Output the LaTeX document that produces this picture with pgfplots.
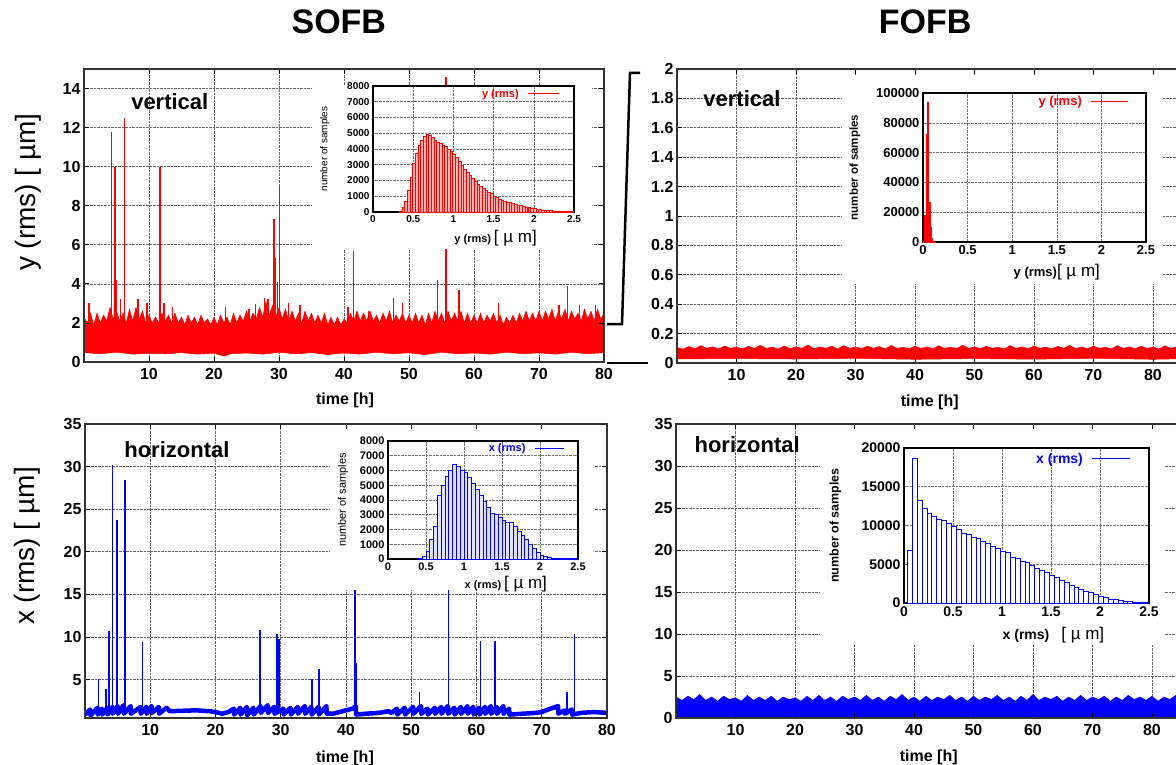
\documentclass[border=0pt]{standalone}
\usepackage{fontspec}
\setmainfont{Liberation Sans}
\usepackage{pgfplots}
\pgfplotsset{compat=1.18}
\newcommand\fs[1]{\fontsize{#1}{#1}\selectfont}
\pgfplotsset{
 mainax/.style={scale only axis, anchor=south west,
   axis line style={line width=1.3pt, black!80},
   tick align=inside, major tick length=5pt, tick style={line width=0.8pt, black},
   xtick={10,20,30,40,50,60,70,80},
   tick label style={font=\fs{16}\bfseries},
   xticklabel style={yshift=-3pt},
   /pgf/number format/fixed, /pgf/number format/assume math mode=true, /pgf/number format/1000 sep={}, scaled ticks=false,
   xlabel style={font=\fs{16}\bfseries, anchor=center},
   ylabel style={font=\fs{28}, anchor=center},
   title style={font=\fs{34}\bfseries, anchor=center},
   unbounded coords=jump},
 maingrid/.style={grid=major, grid style={densely dotted, black!60, line width=0.7pt}},
 mainover/.style={xticklabels={}, yticklabels={}},
 tlgeo/.style={at={(84pt,-362pt)}, width=520pt, height=293pt, xmin=0, xmax=80, ymin=0, ymax=15, ytick={0,2,...,14}},
 trgeo/.style={at={(677pt,-363pt)}, width=511.7pt, height=294pt, xmin=0, xmax=86, ymin=0, ymax=2, ytick={0,0.2,0.4,0.6,0.8,1,1.2,1.4,1.6,1.8,2}},
 blgeo/.style={at={(85pt,-718pt)}, width=522pt, height=294pt, xmin=0, xmax=80, ymin=0.5, ymax=35, ytick={5,10,...,35}},
 brgeo/.style={at={(676pt,-718pt)}, width=511.7pt, height=294pt, xmin=0, xmax=86, ymin=0, ymax=35, ytick={0,5,...,35}},
 insetax/.style={scale only axis, anchor=south west, ybar,
   axis line style={line width=1.1pt}, tick align=inside, major tick length=3pt, tick style={line width=0.6pt},
   grid=major, grid style={densely dotted, black!55, line width=0.6pt},
   xmin=0, xmax=2.5, ymin=0, xtick={0,0.5,1,1.5,2,2.5}, xticklabels={0,0.5,1,1.5,2,2.5},
   scaled ticks=false, /pgf/number format/fixed, /pgf/number format/1000 sep={}, /pgf/number format/assume math mode=true,
   legend plot pos=right, legend style={draw=none, fill=none, inner sep=0pt, anchor=east, column sep=7pt},
   ylabel style={anchor=center}, xlabel style={anchor=center}},
}
\begin{document}
\begin{tikzpicture}
\useasboundingbox (0,0) rectangle (1176pt,-765pt);
\clip (0,0) rectangle (1176pt,-765pt);

% ================= TOP LEFT (SOFB vertical) =================
\begin{axis}[mainax, maingrid, tlgeo,
  title={SOFB}, title style={at={(axis description cs:0.49,1.14)}},
  xlabel={time [h]}, xlabel style={at={(axis description cs:0.502,-0.13)}},
  ylabel={y (rms) [ µm]}, ylabel style={at={(axis description cs:-0.108,0.58)}}]
\addplot[draw=red, fill=red, line width=0.5pt] coordinates {
(0,2.3)(0.5,2.0)(1,2.5)(1.5,1.9)(2,2.5)(2.5,2.0)(3,2.4)(3.5,2.1)(4,2.8)(4.5,2.2)(5,2.6)(5.5,2.1)(6,2.5)(6.5,2.0)(7,2.7)(7.5,2.1)(8,2.8)(8.5,2.2)(9,2.6)(9.5,2.0)(10,2.4)(10.5,2.0)(11,2.3)(11.5,2.0)(12,2.5)(12.5,2.1)(13,2.4)(13.5,2.0)(14,2.5)(14.5,2.0)(15,2.3)(15.5,1.9)(16,2.4)(16.5,2.0)(17,2.3)(17.5,1.9)(18,2.4)(18.5,2.0)(19,2.2)(19.5,1.9)(20,2.3)(20.5,1.9)(21,2.4)(21.5,2.0)(22,2.3)(22.5,1.9)(23,2.5)(23.5,2.0)(24,2.4)(24.5,2.1)(25,2.6)(25.5,2.1)(26,2.5)(26.5,2.2)(27,2.8)(27.5,2.3)(28,3.1)(28.5,2.4)(29,2.9)(29.5,2.3)(30,2.8)(30.5,2.2)(31,2.7)(31.5,2.1)(32,2.6)(32.5,2.1)(33,2.5)(33.5,2.0)(34,2.6)(34.5,2.1)(35,2.5)(35.5,2.0)(36,2.4)(36.5,2.0)(37,2.5)(37.5,1.9)(38,2.3)(38.5,1.9)(39,2.3)(39.5,1.9)(40,2.2)(40.5,2.0)(41,2.5)(41.5,2.1)(42,2.6)(42.5,2.1)(43,2.5)(43.5,2.1)(44,2.6)(44.5,2.1)(45,2.4)(45.5,2.0)(46,2.5)(46.5,2.1)(47,2.6)(47.5,2.0)(48,2.4)(48.5,2.1)(49,2.5)(49.5,2.0)(50,2.4)(50.5,2.0)(51,2.5)(51.5,2.0)(52,2.4)(52.5,1.9)(53,2.5)(53.5,2.0)(54,2.6)(54.5,2.1)(55,2.5)(55.5,2.0)(56,2.6)(56.5,2.1)(57,2.5)(57.5,2.1)(58,2.6)(58.5,2.0)(59,2.5)(59.5,2.0)(60,2.4)(60.5,2.0)(61,2.5)(61.5,2.0)(62,2.4)(62.5,2.1)(63,2.5)(63.5,2.0)(64,2.4)(64.5,1.9)(65,2.3)(65.5,2.0)(66,2.4)(66.5,2.0)(67,2.5)(67.5,2.1)(68,2.6)(68.5,2.1)(69,2.5)(69.5,2.1)(70,2.6)(70.5,2.1)(71,2.6)(71.5,2.2)(72,2.7)(72.5,2.1)(73,2.6)(73.5,2.2)(74,2.7)(74.5,2.1)(75,2.6)(75.5,2.2)(76,2.5)(76.5,2.1)(77,2.7)(77.5,2.2)(78,2.6)(78.5,2.1)(79,2.7)(79.5,2.2)(80,2.5)
(80,0.48)(77.5,0.42)(75,0.5)(72.5,0.4)(70,0.47)(67.5,0.42)(65,0.5)(62.5,0.4)(60,0.46)(57.5,0.42)(55,0.5)(52.5,0.38)(50,0.47)(47.5,0.42)(45,0.5)(42.5,0.4)(40,0.46)(37.5,0.38)(35,0.48)(32.5,0.42)(30,0.5)(27.5,0.4)(25,0.46)(22.5,0.42)(21.6,0.3)(20,0.45)(17.5,0.4)(15,0.48)(12.5,0.42)(10,0.45)(7.5,0.4)(5,0.5)(2.5,0.42)(0,0.48)
} -- cycle;
\addplot[red, line width=1.5pt] coordinates {
(0.8,2)(0.8,3.0)(0.8,nan)(4.2,2)(4.2,11.8)(4.2,nan)(4.8,2)(4.8,10.0)(4.8,nan)(5.0,2)(5.0,4.2)(5.0,nan)(5.6,2)(5.6,3.2)(5.6,nan)(6.2,2)(6.2,12.5)(6.2,nan)(8.3,2)(8.3,3.2)(8.3,nan)(9.7,2)(9.7,3.0)(9.7,nan)(11.7,2)(11.7,10.0)(11.7,nan)(12.3,2)(12.3,3.0)(12.3,nan)(13.6,2)(13.6,2.8)(13.6,nan)(21.8,2)(21.8,2.8)(21.8,nan)(25.4,2)(25.4,2.7)(25.4,nan)(26.4,2)(26.4,2.95)(26.4,nan)(27.8,2)(27.8,3.3)(27.8,nan)(28.3,2)(28.3,3.2)(28.3,nan)(29.2,2)(29.2,7.3)(29.2,nan)(29.4,2)(29.4,5.3)(29.4,nan)(29.8,2)(29.8,4.1)(29.8,nan)(30.05,2)(30.05,9.0)(30.05,nan)(31.5,2)(31.5,3.0)(31.5,nan)(33.2,2)(33.2,2.9)(33.2,nan)(40.6,2)(40.6,2.8)(40.6,nan)(41.5,2)(41.5,5.7)(41.5,nan)(43.8,2)(43.8,2.6)(43.8,nan)(47.6,2)(47.6,3.3)(47.6,nan)(49.0,2)(49.0,3.0)(49.0,nan)(54.4,2)(54.4,4.2)(54.4,nan)(55.7,2)(55.7,14.6)(55.7,nan)(57.7,2)(57.7,3.7)(57.7,nan)(63.8,2)(63.8,3.0)(63.8,nan)(73.1,2)(73.1,2.9)(73.1,nan)(74.4,2)(74.4,3.9)(74.4,nan)(76.2,2)(76.2,2.9)(76.2,nan)(78.7,2)(78.7,2.9)
};
\node[font=\fs{22}\bfseries] at (rel axis cs:0.165,0.89) {vertical};
\end{axis}
\fill[white] (312pt,-85pt) rectangle (592pt,-249pt);
\begin{axis}[mainax, tlgeo, mainover]\end{axis}
\begin{axis}[insetax, at={(373pt,-212pt)}, width=201pt, height=126pt,
  ymax=8000, ytick={0,1000,...,8000}, tick label style={font=\fs{10}\bfseries},
  ylabel={number of samples}, ylabel style={font=\fs{10}, at={(axis description cs:-0.24,0.5)}},
  xlabel={{\fs{11}\bfseries y (rms)} {\fs{17}[ µ m]}}, xlabel style={at={(axis description cs:0.61,-0.21)}},
  legend style={at={(axis description cs:0.93,0.937)}, font=\fs{11}\bfseries}]
\addplot[draw=red, fill=red!30, line width=0.8pt, bar width=0.0333,
  legend image code/.code={\draw[red, line width=1pt] (0pt,0pt) -- (31pt,0pt);}] coordinates {
(0.343,60)(0.377,300)(0.410,650)(0.444,1350)(0.477,2200)(0.510,3090)(0.543,3720)(0.577,4210)(0.610,4570)(0.643,4780)(0.677,4910)(0.710,4850)(0.743,4750)(0.777,4570)(0.810,4440)(0.843,4360)(0.877,4250)(0.910,4150)(0.943,4000)(0.977,3850)(1.010,3660)(1.043,3450)(1.077,3200)(1.110,2980)(1.143,2700)(1.177,2500)(1.210,2330)(1.243,2140)(1.277,1950)(1.310,1760)(1.343,1640)(1.377,1510)(1.410,1380)(1.443,1270)(1.477,1170)(1.510,1020)(1.543,910)(1.577,830)(1.610,740)(1.643,680)(1.677,630)(1.710,580)(1.743,540)(1.777,490)(1.810,440)(1.843,400)(1.877,360)(1.910,320)(1.943,280)(1.977,240)(2.010,210)(2.043,180)(2.077,150)(2.110,130)(2.143,110)(2.177,95)(2.210,80)(2.243,65)(2.277,55)(2.310,45)(2.343,35)(2.377,25)(2.410,20)(2.443,15)(2.477,10)
};
\addlegendentry{\textcolor{red}{y (rms)}}
\end{axis}

% ================= TOP RIGHT (FOFB vertical) =================
\begin{axis}[mainax, maingrid, trgeo,
  title={FOFB}, title style={at={(axis description cs:0.485,1.14)}},
  xlabel={time [h]}, xlabel style={at={(axis description cs:0.494,-0.133)}}]
\addplot[draw=red, fill=red, line width=0.5pt] coordinates {
(0,0.105)(1,0.095)(2,0.112)(3,0.098)(4,0.118)(5,0.1)(6,0.11)(7,0.096)(8,0.115)(9,0.1)(10,0.108)(11,0.097)(12,0.113)(13,0.099)(14,0.12)(15,0.1)(16,0.107)(17,0.095)(18,0.116)(19,0.098)(20,0.11)(21,0.1)(22,0.122)(23,0.097)(24,0.109)(25,0.1)(26,0.114)(27,0.096)(28,0.118)(29,0.1)(30,0.108)(31,0.098)(32,0.115)(33,0.1)(34,0.112)(35,0.096)(36,0.119)(37,0.1)(38,0.107)(39,0.097)(40,0.114)(41,0.099)(42,0.11)(43,0.096)(44,0.117)(45,0.1)(46,0.108)(47,0.098)(48,0.121)(49,0.1)(50,0.109)(51,0.097)(52,0.114)(53,0.1)(54,0.107)(55,0.096)(56,0.118)(57,0.099)(58,0.11)(59,0.097)(60,0.116)(61,0.1)(62,0.108)(63,0.096)(64,0.113)(65,0.1)(66,0.12)(67,0.098)(68,0.109)(69,0.097)(70,0.115)(71,0.1)(72,0.107)(73,0.096)(74,0.118)(75,0.099)(76,0.11)(77,0.097)(78,0.114)(79,0.1)(80,0.108)(81,0.096)(82,0.117)(83,0.1)(84,0.11)(85,0.098)(86,0.112)
(86,0.03)(80,0.025)(70,0.032)(60,0.026)(50,0.03)(40,0.025)(30,0.032)(20,0.027)(10,0.03)(0,0.028)
} -- cycle;
\node[font=\fs{22}\bfseries] at (rel axis cs:0.127,0.90) {vertical};
\end{axis}
\fill[white] (842pt,-76pt) rectangle (1162pt,-284pt);
\begin{axis}[mainax, trgeo, mainover]\end{axis}
\begin{axis}[insetax, at={(923pt,-242pt)}, width=223pt, height=149pt,
  ymax=100000, ytick={0,20000,40000,60000,80000,100000}, tick label style={font=\fs{13}\bfseries},
  ylabel={number of samples}, ylabel style={font=\fs{11.5}\bfseries, at={(axis description cs:-0.305,0.5)}},
  xlabel={{\fs{13}\bfseries y (rms)}{\fs{17}[ µ m]}}, xlabel style={at={(axis description cs:0.6,-0.2)}},
  legend style={at={(axis description cs:0.924,0.94)}, font=\fs{13}\bfseries}]
\addplot[draw=red, fill=red, line width=0.5pt, bar width=0.015,
  legend image code/.code={\draw[red, line width=1pt] (0pt,0pt) -- (37pt,0pt);}] coordinates {
(0.015,500)(0.025,18000)(0.04,72000)(0.055,94000)(0.07,27000)(0.085,10000)(0.1,2500)(0.115,500)(0.13,150)
};
\addlegendentry{\textcolor{red}{y (rms)}}
\end{axis}

% ================= BOTTOM LEFT (SOFB horizontal) =================
\begin{axis}[mainax, maingrid, blgeo,
  xlabel={time [h]}, xlabel style={at={(axis description cs:0.498,-0.136)}},
  ylabel={x (rms) [ µm]}, ylabel style={at={(axis description cs:-0.11,0.585)}}]
\addplot[blue, line width=4.5pt, line join=round] coordinates {
(0,0.9)(0.8,1.5)(0.85,0.8)(1.9,1.7)(1.95,0.9)(2.6,1.6)(2.65,0.9)(3.4,1.7)(3.45,0.9)(4.2,1.8)(4.25,1.0)(5.0,1.9)(5.05,1.0)(5.9,2.0)(5.95,1.0)(7.0,1.9)(7.05,1.0)(8.5,1.8)(8.55,1.0)(9.4,1.8)(9.45,1.0)(10.2,1.9)(10.25,1.1)(11.3,1.8)(11.35,1.0)(12.5,1.7)(13,1.3)(15,1.35)(17,1.4)(19,1.3)(20,1.2)(21,1.0)(22,1.2)(22.8,1.6)(22.85,0.9)(23.8,1.7)(23.85,0.9)(24.8,1.8)(24.85,0.8)(25.8,1.7)(25.85,0.9)(26.9,1.9)(26.95,1.1)(28,2.0)(28.05,1.1)(29,1.8)(29.05,1.0)(30.4,1.6)(30.45,0.9)(31.5,1.7)(31.55,0.9)(32.6,1.8)(32.65,1.0)(33.7,1.9)(33.75,1.0)(34.7,1.8)(34.75,0.9)(35.8,1.8)(35.85,0.9)(37,1.9)(37.05,1.0)(38,1.0)(39,1.2)(40,1.4)(41,1.6)(41.5,1.9)(41.55,0.9)(43,1.0)(45,1.1)(46.5,1.3)(47,1.1)(47.8,1.6)(47.85,0.9)(49,1.7)(49.05,0.9)(50.3,1.8)(50.35,1.0)(51.5,1.9)(51.55,1.0)(52.5,1.6)(52.55,0.9)(53.6,1.7)(53.65,1.0)(54.6,1.8)(54.65,1.0)(55.6,1.9)(55.65,1.0)(56.6,1.7)(56.65,0.9)(57.6,1.8)(57.65,1.0)(58.6,1.9)(58.65,1.0)(59.5,1.8)(59.55,0.9)(60.4,1.7)(60.45,0.9)(61.3,1.8)(61.35,1.0)(62.2,1.9)(62.25,1.0)(63.1,1.8)(63.15,1.0)(64.1,1.9)(64.15,1.0)(65,1.6)(65.05,0.9)(67,1.0)(69,1.1)(70,1.2)(71,1.5)(72.5,1.9)(72.55,1.0)(73.5,1.4)(73.55,1.0)(74.6,1.5)(74.65,0.9)(76,1.1)(78,1.2)(80,1.1)
};
\addplot[blue, line width=1.5pt] coordinates {
(2.1,1.2)(2.1,5.1)(2.1,nan)(3.2,1.2)(3.2,3.9)(3.2,nan)(3.7,1.2)(3.7,10.7)(3.7,nan)(4.25,1.2)(4.25,30.2)(4.25,nan)(4.9,1.2)(4.9,23.7)(4.9,nan)(6.15,1.2)(6.15,28.4)(6.15,nan)(8.8,1.2)(8.8,9.4)(8.8,nan)(26.8,1.2)(26.8,10.8)(26.8,nan)(29.4,1.2)(29.4,10.3)(29.4,nan)(29.75,1.2)(29.75,9.8)(29.75,nan)(34.8,1.2)(34.8,5.1)(34.8,nan)(35.85,1.2)(35.85,6.2)(35.85,nan)(41.4,1.2)(41.4,15.5)(41.4,nan)(41.6,1.2)(41.6,7.0)(41.6,nan)(51.3,1.2)(51.3,3.5)(51.3,nan)(55.7,1.2)(55.7,15.5)(55.7,nan)(60.6,1.2)(60.6,9.5)(60.6,nan)(62.8,1.2)(62.8,9.5)(62.8,nan)(73.9,1.2)(73.9,3.6)(73.9,nan)(75.05,1.2)(75.05,10.4)
};
\node[font=\fs{22}\bfseries] at (rel axis cs:0.176,0.912) {horizontal};
\end{axis}
\fill[white] (330pt,-428pt) rectangle (595pt,-590pt);
\begin{axis}[mainax, blgeo, mainover]\end{axis}
\begin{axis}[insetax, at={(388pt,-559pt)}, width=190pt, height=118pt,
  ymax=8000, ytick={0,1000,...,8000}, tick label style={font=\fs{11}\bfseries},
  ylabel={number of samples}, ylabel style={font=\fs{11}, at={(axis description cs:-0.237,0.5)}},
  xlabel={{\fs{11}\bfseries x (rms)} {\fs{17}[ µ m]}}, xlabel style={at={(axis description cs:0.62,-0.21)}},
  legend style={at={(axis description cs:0.93,0.94)}, font=\fs{11}\bfseries}]
\addplot[draw=blue, fill=blue!12, line width=0.9pt, bar width=0.05,
  legend image code/.code={\draw[blue, line width=1pt] (0pt,0pt) -- (29pt,0pt);}] coordinates {
(0.425,30)(0.475,150)(0.525,500)(0.575,1300)(0.625,2200)(0.675,4300)(0.725,5000)(0.775,5600)(0.825,6000)(0.875,6400)(0.925,6300)(0.975,6000)(1.025,5900)(1.075,5500)(1.125,5100)(1.175,4700)(1.225,4300)(1.275,3900)(1.325,3500)(1.375,3100)(1.425,3000)(1.475,2800)(1.525,2600)(1.575,2500)(1.625,2450)(1.675,2200)(1.725,1900)(1.775,1600)(1.825,1300)(1.875,1000)(1.925,700)(1.975,450)(2.025,250)(2.075,150)(2.125,80)(2.175,40)(2.225,20)(2.275,10)(2.325,5)(2.375,5)(2.425,5)(2.475,5)
};
\addlegendentry{\textcolor{blue}{x (rms)}}
\end{axis}

% ================= BOTTOM RIGHT (FOFB horizontal) =================
\begin{axis}[mainax, maingrid, brgeo,
  xlabel={time [h]}, xlabel style={at={(axis description cs:0.494,-0.133)}}]
\addplot[draw=blue, fill=blue, line width=0.5pt] coordinates {
(0,2.5)(1,2.1)(2,2.6)(3,2.2)(4,2.8)(5,2.1)(6,2.5)(7,2.0)(8,2.6)(9,2.2)(10,2.4)(11,2.0)(12,2.7)(13,2.1)(14,2.5)(15,2.1)(16,2.6)(17,2.0)(18,2.5)(19,2.2)(20,2.4)(21,2.0)(22,2.6)(23,2.1)(24,2.7)(25,2.1)(26,2.5)(27,2.0)(28,2.6)(29,2.2)(30,2.5)(31,2.1)(32,2.7)(33,2.1)(34,2.5)(35,2.0)(36,2.6)(37,2.2)(38,2.8)(39,2.1)(40,2.5)(41,2.0)(42,2.6)(43,2.1)(44,2.5)(45,2.2)(46,2.7)(47,2.1)(48,2.5)(49,2.0)(50,2.6)(51,2.1)(52,2.5)(53,2.2)(54,2.7)(55,2.1)(56,2.5)(57,2.0)(58,2.6)(59,2.1)(60,2.8)(61,2.1)(62,2.5)(63,2.2)(64,2.6)(65,2.0)(66,2.5)(67,2.1)(68,2.7)(69,2.1)(70,2.5)(71,2.2)(72,2.6)(73,2.0)(74,2.5)(75,2.1)(76,2.7)(77,2.2)(78,2.5)(79,2.1)(80,2.6)(81,2.0)(82,2.5)(83,2.2)(84,2.7)(85,2.1)(86,2.5)
} \closedcycle;
\node[font=\fs{22}\bfseries] at (rel axis cs:0.139,0.93) {horizontal};
\end{axis}
\fill[white] (820pt,-428pt) rectangle (1165pt,-645pt);
\begin{axis}[mainax, brgeo, mainover]\end{axis}
\begin{axis}[insetax, at={(904pt,-603pt)}, width=245pt, height=155pt,
  ymax=20000, ytick={0,5000,10000,15000,20000}, tick label style={font=\fs{14}\bfseries},
  ylabel={number of samples}, ylabel style={font=\fs{12.5}\bfseries, at={(axis description cs:-0.28,0.5)}},
  xlabel={{\fs{14}\bfseries x (rms)}\hspace{12pt}{\fs{17}[ µ m]}}, xlabel style={at={(axis description cs:0.61,-0.206)}},
  legend style={at={(axis description cs:0.927,0.93)}, font=\fs{14}\bfseries}]
\addplot[draw=blue, fill=white, line width=1pt, bar width=0.05,
  legend image code/.code={\draw[blue, line width=1pt] (0pt,0pt) -- (38pt,0pt);}] coordinates {
(0.06,6800)(0.11,18600)(0.16,13200)(0.21,12200)(0.26,11600)(0.31,11100)(0.36,10800)(0.41,10600)(0.46,10200)(0.51,9900)(0.56,9500)(0.61,9000)(0.66,8800)(0.71,8400)(0.76,8300)(0.81,8000)(0.86,7700)(0.91,7300)(0.96,7000)(1.01,6600)(1.06,6500)(1.11,5900)(1.16,5800)(1.21,5300)(1.26,5200)(1.31,4800)(1.36,4500)(1.41,4200)(1.46,3900)(1.51,3600)(1.56,3300)(1.61,2900)(1.66,2700)(1.71,2300)(1.76,2000)(1.81,1800)(1.86,1500)(1.91,1300)(1.96,1100)(2.01,900)(2.06,700)(2.11,500)(2.16,400)(2.21,300)(2.26,200)(2.31,150)(2.36,100)(2.41,60)(2.46,30)
};
\addlegendentry{\textcolor{blue}{x (rms)}}
\end{axis}

% zoom bracket between the two upper panels
\draw[line width=2.5pt] (607pt,-324pt) -- (622pt,-324pt) -- (630pt,-73pt) -- (640pt,-73pt);
\draw[line width=2.5pt] (607pt,-363pt) -- (648pt,-363pt);
\end{tikzpicture}
\end{document}
